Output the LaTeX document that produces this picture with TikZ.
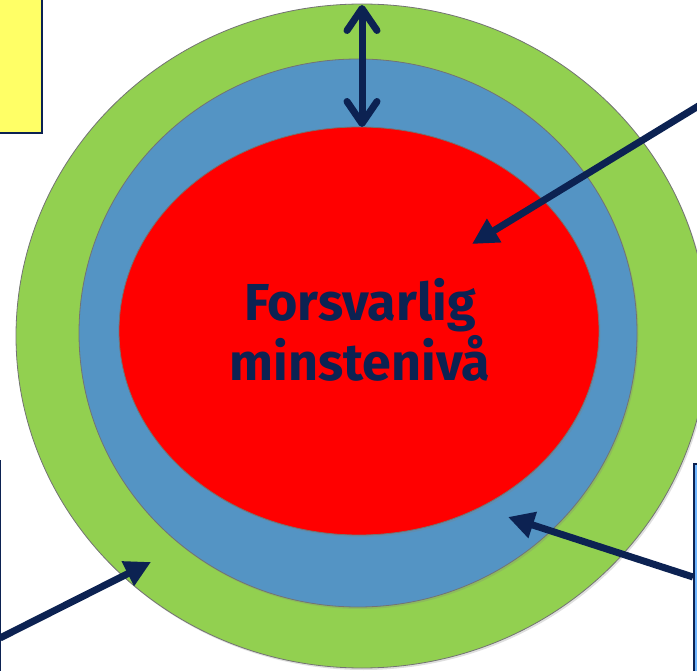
\documentclass[tikz,border=0pt]{standalone}
\usepackage{fontspec}
\setmainfont{Fira Sans}
\usetikzlibrary{arrows.meta,shapes.geometric,shadows}

\definecolor{navy}{HTML}{0C2252}
\definecolor{ringgreen}{HTML}{92D050}
\definecolor{ringblue}{HTML}{5494C4}
\definecolor{ringred}{HTML}{FF0000}
\definecolor{boxyellow}{HTML}{FFFF66}
\definecolor{boxblue}{HTML}{6FB6FF}

\begin{document}
\begin{tikzpicture}[x=1pt,y=-1pt,
	ring/.style={ellipse,draw=black!55,line width=0.8pt,inner sep=0pt,
		drop shadow={opacity=0.25,shadow xshift=1.5pt,shadow yshift=-2pt}},
	side box/.style={rectangle,draw=navy,line width=2pt,inner sep=0pt},
	pil/.style={draw=navy,line width=7pt,-{Triangle[length=26pt,width=26pt]}},
	gap/.style={draw=navy,line width=7pt,line cap=round,
		{Straight Barb[length=22pt,width=30pt,line cap=round,round]}-{Straight Barb[length=22pt,width=30pt,line cap=round,round]}}]
	
	\useasboundingbox (0,0) rectangle (697,671);
	
	% rings
	\node[ring,fill=ringgreen,minimum width=692pt,minimum height=664pt] (outer) at (362,336) {};
	\node[ring,fill=ringblue,minimum width=558pt,minimum height=548pt] (middle) at (358,333) {};
	\node[ring,fill=ringred,minimum width=480pt,minimum height=408pt] (core) at (359,331) {};
	\node[text=navy,font=\bfseries\fontsize{52}{60}\selectfont,align=center] (label) at (360,330) {Forsvarlig\\minstenivå};
	
	% boxes at the edges
	\node[side box,fill=boxyellow,minimum width=80pt,minimum height=160pt,anchor=south east] (goal) at (43,134) {};
	\node[side box,fill=boxblue,minimum width=80pt,minimum height=260pt,anchor=north east] (leftbox) at (1,460) {};
	\node[side box,fill=boxblue,minimum width=80pt,minimum height=260pt,anchor=north west] (rightbox) at (693,463) {};
	
	% arrow ends
	\coordinate (gaptop) at (362,5);
	\coordinate (gapbot) at (362,127);
	\coordinate (fromtop) at (705,102);
	\coordinate (intocore) at (472,244);
	\coordinate (fromright) at (693,577);
	\coordinate (intomiddle) at (508,517);
	\coordinate (fromleft) at (0,638);
	\coordinate (intoouter) at (151,562);
	
	\draw[gap] (gaptop) -- (gapbot);
	\draw[pil] (fromtop) -- (intocore);
	\draw[pil] (fromright) -- (intomiddle);
	\draw[pil] (fromleft) -- (intoouter);
\end{tikzpicture}
\end{document}
